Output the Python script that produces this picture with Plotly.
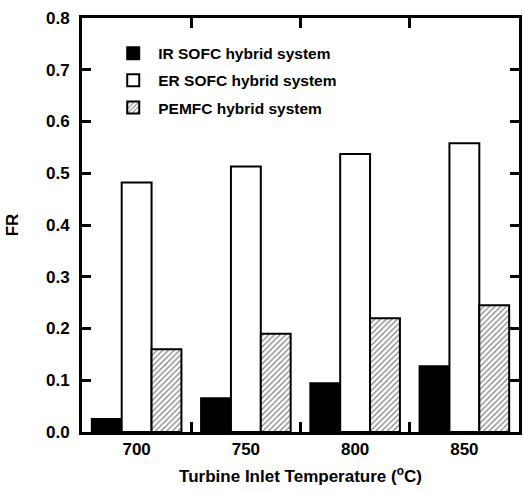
import plotly.graph_objects as go

categories = ["700", "750", "800", "850"]
ir_sofc = [0.025, 0.065, 0.094, 0.127]
er_sofc = [0.482, 0.513, 0.537, 0.558]
pemfc = [0.160, 0.190, 0.220, 0.245]
y_ticks = [0.0, 0.1, 0.2, 0.3, 0.4, 0.5, 0.6, 0.7, 0.8]
y_tick_text = ["0.0", "0.1", "0.2", "0.3", "0.4", "0.5", "0.6", "0.7", "0.8"]

FONT = "Liberation Sans, Arial, sans-serif"

fig = go.Figure()
fig.add_trace(go.Bar(x=categories, y=ir_sofc, name="<b>IR SOFC hybrid system</b>",
                     legendgroup="a",
                     marker=dict(color="black", line=dict(color="black", width=2))))
fig.add_trace(go.Bar(x=categories, y=er_sofc, name="<b>ER SOFC hybrid system</b>",
                     legendgroup="b",
                     marker=dict(color="white", line=dict(color="black", width=2))))
fig.add_trace(go.Bar(x=categories, y=pemfc, name="<b>PEMFC hybrid system</b>",
                     legendgroup="c",
                     marker=dict(color="white", line=dict(color="black", width=2),
                                 pattern=dict(shape="/", size=4, solidity=0.3,
                                              fgcolor="black", bgcolor="white"))))

fig.update_layout(
    width=523, height=493,
    margin=dict(l=82, r=1, t=18, b=61),
    paper_bgcolor="white", plot_bgcolor="white",
    barmode="group", bargap=0.18, bargroupgap=0,
    font=dict(family=FONT, color="black", size=17),
    showlegend=True,
    legend=dict(x=0.06, y=0.955, xanchor="left", yanchor="top",
                bgcolor="rgba(0,0,0,0)", borderwidth=0,
                font=dict(family=FONT, size=15.5, color="black"),
                tracegroupgap=4, itemsizing="constant", itemwidth=40),
    xaxis=dict(
        type="category", range=[-0.5, 3.5],
        showline=True, linecolor="black", linewidth=3, mirror="ticks",
        ticks="inside", tickson="boundaries", ticklen=10, tickwidth=3, tickcolor="black",
        tickfont=dict(family=FONT, size=17, color="black", weight="bold"),
        showgrid=False, zeroline=False,
        title=dict(text="<b>Turbine Inlet Temperature (<sup>o</sup>C)</b>",
                   font=dict(family=FONT, size=17, color="black"), standoff=12),
    ),
    yaxis=dict(
        range=[0, 0.8], tickvals=y_ticks, ticktext=y_tick_text,
        showline=True, linecolor="black", linewidth=3, mirror="ticks",
        ticks="inside", ticklen=9, tickwidth=3, tickcolor="black",
        tickfont=dict(family=FONT, size=17, color="black", weight="bold"),
        showgrid=False, zeroline=False, ticklabelstandoff=6,
        title=dict(text="<b>FR</b>", font=dict(family=FONT, size=17, color="black"),
                   standoff=24),
    ),
)

fig.write_html("out.html", config={"displayModeBar": False},
               post_script="document.body.style.margin='0';")
